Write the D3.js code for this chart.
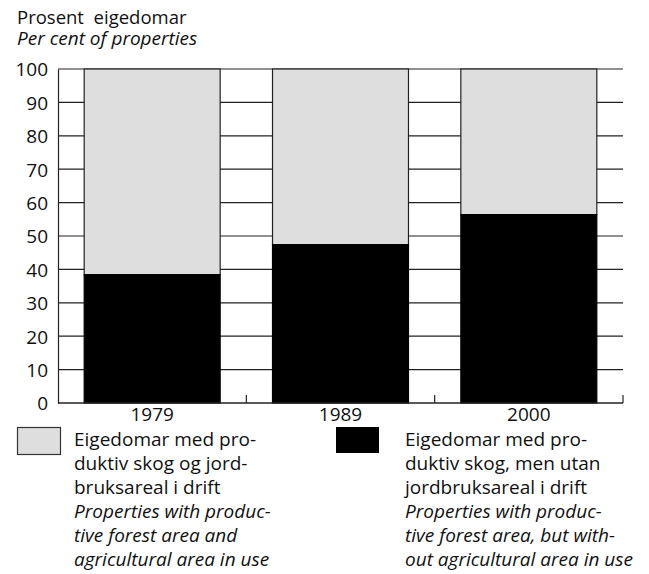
<!DOCTYPE html>
<html><head><meta charset="utf-8">
<script src="https://cdn.jsdelivr.net/npm/d3@7"></script>
<style>body{margin:0;background:#fff}svg text{font-family:"Open Sans",sans-serif;fill:#111;white-space:pre}</style>
</head><body><svg id="c" width="649" height="574"></svg>
<script>
const years = ["1979","1989","2000"];
const withoutAgri = [38.4, 47.4, 56.4];
const withAgri = [61.6, 52.6, 43.6];
const yTicks = [0,10,20,30,40,50,60,70,80,90,100];
const titleLines = ["Prosent  eigedomar","Per cent of properties"];
const legendGrey = ["Eigedomar med pro-","duktiv skog og jord-","bruksareal i drift","Properties with produc-","tive forest area and","agricultural area in use"];
const legendBlack = ["Eigedomar med pro-","duktiv skog, men utan","jordbruksareal i drift","Properties with produc-","tive forest area, but with-","out agricultural area in use"];

const svg = d3.select("#c");
const L=58, R=623, T=69, B=403;
const FS = 19;
const x = d3.scaleBand().domain(years).range([L,R]).paddingInner(0.278).paddingOuter(0.139);
const y = d3.scaleLinear().domain([0,100]).range([B,T]);

svg.append("text").attr("x",17).attr("y",24).attr("font-size",18.5).attr("xml:space","preserve").text(titleLines[0]);
svg.append("text").attr("x",17).attr("y",45).attr("font-size",19).attr("font-style","italic").text(titleLines[1]);

// gridlines
svg.append("g").selectAll("line").data(yTicks.filter(d=>d>0)).join("line")
  .attr("x1",L).attr("x2",R).attr("y1",d=>y(d)).attr("y2",d=>y(d))
  .attr("stroke","#222").attr("stroke-width",1.2);

// y axis
const ya = svg.append("g").attr("transform",`translate(${L},0)`)
  .call(d3.axisLeft(y).tickValues(yTicks).tickSize(0).tickPadding(10));
ya.select(".domain").attr("stroke","#222").attr("stroke-width",1.2);
ya.selectAll("text").attr("font-size",FS).attr("font-family","Open Sans").attr("fill","#111").attr("dy","0.36em");

// bars
const data = years.map((yr,i)=>({yr, a:withoutAgri[i], b:withAgri[i]}));
const g = svg.append("g");
g.selectAll("rect.g").data(data).join("rect").attr("class","g")
  .attr("x",d=>x(d.yr)).attr("width",x.bandwidth())
  .attr("y",d=>y(d.a+d.b)).attr("height",d=>y(d.a)-y(d.a+d.b))
  .attr("fill","#dedede").attr("stroke","#222").attr("stroke-width",1.2);
g.selectAll("rect.k").data(data).join("rect").attr("class","k")
  .attr("x",d=>x(d.yr)).attr("width",x.bandwidth())
  .attr("y",d=>y(d.a)).attr("height",d=>y(0)-y(d.a))
  .attr("fill","#000").attr("stroke","#000").attr("stroke-width",1.2);

// x axis
svg.append("line").attr("x1",L).attr("x2",R).attr("y1",B).attr("y2",B).attr("stroke","#222").attr("stroke-width",1.4);
const bounds = years.map(d=>x(d)+x.bandwidth()+x.step()*x.paddingInner()/2);
svg.append("g").selectAll("line").data(bounds).join("line")
  .attr("x1",d=>d).attr("x2",d=>d).attr("y1",B).attr("y2",B-8).attr("stroke","#222").attr("stroke-width",1.2);
svg.append("g").selectAll("text").data(years).join("text")
  .attr("x",d=>x(d)+x.bandwidth()/2).attr("y",421).attr("text-anchor","middle").attr("font-size",FS).text(d=>d);

// legend
svg.append("rect").attr("x",17.5).attr("y",427.5).attr("width",43).attr("height",27).attr("fill","#dedede").attr("stroke","#333").attr("stroke-width",1.2);
svg.append("rect").attr("x",336).attr("y",427).attr("width",43).attr("height",26).attr("fill","#000");
function legendText(lines, x0){
  svg.append("g").selectAll("text").data(lines).join("text")
    .attr("x",x0).attr("y",(d,i)=>446+i*24).attr("font-size",FS)
    .attr("font-style",(d,i)=>i>=3?"italic":"normal").text(d=>d);
}
legendText(legendGrey,74);
legendText(legendBlack,405);
</script></body></html>
